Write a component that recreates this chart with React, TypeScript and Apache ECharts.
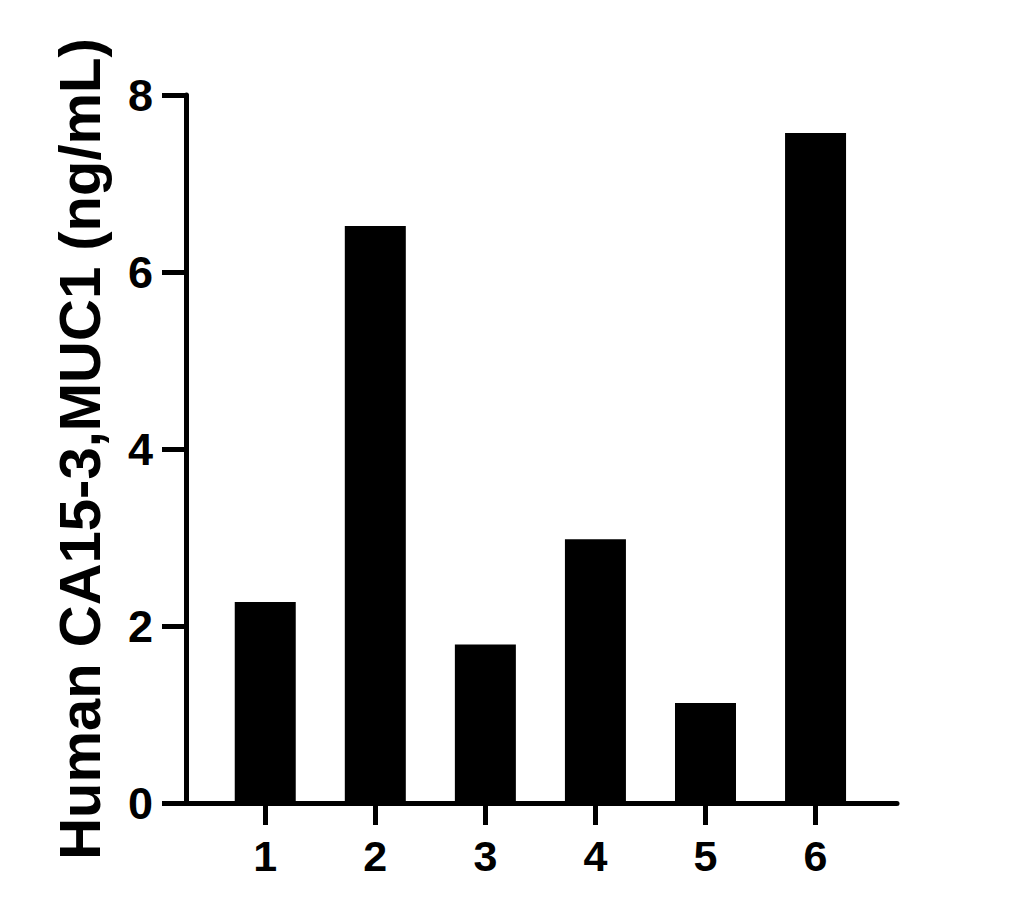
import { useEffect, useRef } from "react";
import * as echarts from "echarts";

// Sample labels along the x axis and their positions on the value scale
const categories = ["1", "2", "3", "4", "5", "6"];
const positions = [1, 2, 3, 4, 5, 6];
// Measured concentration per sample (ng/mL)
const values = [2.27, 6.52, 1.79, 2.98, 1.13, 7.57];
const yTitle = "Human CA15-3,MUC1 (ng/mL)";

const FONT = "'Liberation Sans', Arial, sans-serif";

function buildOption() {
    return {
        animation: false,
        backgroundColor: "#ffffff",
        grid: { left: 186, right: 136, top: 95, bottom: 117, containLabel: false },
        xAxis: {
            type: "value",
            min: 0.28,
            max: 6.74,
            axisLine: { show: true, lineStyle: { color: "#000", width: 5 } },
            axisTick: { show: true, customValues: positions, length: 22, lineStyle: { color: "#000", width: 5 } },
            axisLabel: {
                customValues: positions,
                formatter: (v: number) => categories[positions.indexOf(v)] ?? "",
                color: "#000",
                fontSize: 43,
                fontWeight: "bold",
                fontFamily: FONT,
                margin: 31
            },
            splitLine: { show: false }
        },
        yAxis: {
            type: "value",
            min: 0,
            max: 8,
            interval: 2,
            name: yTitle,
            nameLocation: "middle",
            nameGap: 78,
            nameTextStyle: { color: "#000", fontSize: 58, fontWeight: "bold", fontFamily: FONT },
            axisLine: { show: true, lineStyle: { color: "#000", width: 5 } },
            axisTick: { show: true, length: 24, lineStyle: { color: "#000", width: 5 } },
            axisLabel: { color: "#000", fontSize: 45, fontWeight: "bold", fontFamily: FONT, margin: 33 },
            splitLine: { show: false }
        },
        series: [
            {
                type: "bar",
                barWidth: 61,
                itemStyle: { color: "#000" },
                data: positions.map((p, i) => [p, values[i]])
            }
        ]
    };
}

export default function App() {
    const ref = useRef<HTMLDivElement>(null);

    useEffect(() => {
        document.body.style.margin = "0";
        if (!ref.current) return;
        const chart = echarts.init(ref.current, undefined, { renderer: "svg" });
        chart.setOption(buildOption() as any);
        return () => chart.dispose();
    }, []);

    return <div ref={ref} style={{ width: 1033, height: 920 }} />;
}
